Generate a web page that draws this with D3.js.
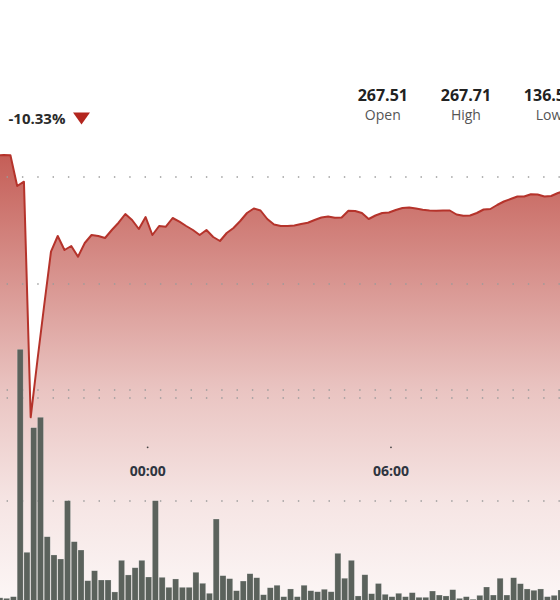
<!DOCTYPE html>
<html><head><meta charset="utf-8">
<script src="https://cdn.jsdelivr.net/npm/d3@7"></script>
<style>
html,body{margin:0;padding:0;background:#fff;}
svg{display:block;font-family:"Open Sans",sans-serif;}
</style>
</head><body>
<svg id="c" width="560" height="600"></svg>
<script>
// ---- data ----
const prices = [
  267.51, 267.71, 267.6, 252.2, 254.35, 136.55, 165.2, 192.7, 219.35, 227.2,
  220.2, 222.2, 216.85, 223.7, 227.7, 227.2, 226.2, 230.2, 233.85, 238.2,
  235.2, 230.7, 236.7, 227.7, 232.2, 231.85, 236.2, 234.35, 232.2, 230.2,
  227.7, 230.2, 226.7, 224.7, 228.7, 231.2, 234.7, 238.7, 240.95, 239.95,
  235.7, 232.95, 232.2, 232.2, 232.45, 233.2, 233.85, 235.2, 236.45, 236.95,
  236.35, 236.45, 239.85, 239.7, 238.7, 235.7, 237.45, 238.7, 238.95, 240.2,
  241.2, 241.45, 240.95, 240.35, 239.95, 239.85, 239.95, 239.95, 237.95, 237.35,
  237.45, 238.7, 240.45, 240.7, 242.7, 244.45, 245.7, 246.95, 246.95, 248.1,
  247.95, 246.95, 247.2, 248.7, 249.7
];
const volumes = [
  6.0, 5.5, 7.1, 247.3, 50.2, 171.2, 181.3, 65.3, 47.6, 43.7,
  100.3, 60.5, 52.4, 22.6, 32.3, 23.3, 23.3, 11.7, 42.4, 28.2,
  35.2, 42.4, 26.2, 100.3, 25.9, 16.2, 24.3, 16.2, 16.2, 30.8,
  20.1, 10.4, 82.5, 27.5, 24.6, 12.9, 22.3, 29.4, 25.5, 9.0,
  15.8, 18.2, 7.1, 14.6, 7.1, 18.2, 12.9, 11.9, 14.3, 11.9,
  49.2, 25.0, 42.4, 7.8, 28.4, 10.0, 19.9, 9.4, 7.1, 10.4,
  7.1, 11.0, 6.5, 6.5, 12.6, 8.7, 7.8, 13.9, 5.5, 7.1,
  4.6, 8.4, 16.5, 8.7, 25.0, 8.7, 25.5, 19.7, 14.6, 13.3,
  14.6, 7.1, 8.4, 13.6, 10.0
];
const startTime = [2024, 0, 1, 20, 17]; // time of first point
const stepMinutes = 10;
const timeTickLabels = ["00:00", "06:00"];
const priceGridTicks = [256.7, 203.2, 150.2];
const volumeGridTicks = [100, 200];
const changeText = "-10.33%";
const statValues = ["267.51", "267.71", "136.55"];
const statLabels = ["Open", "High", "Low"];

// ---- build ----
const W = 560, H = 600;
const t0 = new Date(...startTime);
const times = prices.map((_, i) => new Date(t0.getTime() + i * stepMinutes * 60000));
const data = prices.map((p, i) => ({t: times[i], p, v: volumes[i]}));

const x = d3.scaleTime().domain([times[0], times[times.length - 1]]).range([-3.1, 564.7]);
const yP = d3.scaleLinear().domain([267.7, 136.5]).range([155, 417.4]);
const yV = d3.scaleLinear().domain([0, 200]).range([604, 398]);

const svg = d3.select("#c");
const defs = svg.append("defs");
const grad = defs.append("linearGradient").attr("id", "g")
  .attr("gradientUnits", "userSpaceOnUse").attr("x1", 0).attr("x2", 0).attr("y1", 150).attr("y2", 600);
[[0, 0.74], [0.18, 0.58], [0.53, 0.27], [0.78, 0.12], [1, 0.04]].forEach(([o, a]) =>
  grad.append("stop").attr("offset", o).attr("stop-color", "rgb(175,35,25)").attr("stop-opacity", a));

// area
svg.append("path").datum(data)
  .attr("d", d3.area().x(d => x(d.t)).y0(H).y1(d => yP(d.p)))
  .attr("fill", "url(#g)");

// grid (dotted)
const gridYs = priceGridTicks.map(yP).concat(volumeGridTicks.map(yV));
svg.append("g").selectAll("line").data(gridYs).join("line")
  .attr("x1", 6.6).attr("x2", W).attr("y1", d => d).attr("y2", d => d)
  .attr("stroke", "#9a9a9a").attr("stroke-width", 1.3)
  .attr("stroke-dasharray", "1.4,13.93");

// volume bars
svg.append("g").selectAll("rect").data(data).join("rect")
  .attr("x", d => x(d.t)).attr("width", 6)
  .attr("y", d => yV(d.v)).attr("height", d => yV(0) - yV(d.v))
  .attr("fill", "#5b625c").attr("stroke", "rgba(255,255,255,0.35)").attr("stroke-width", 0.6);

// price line
svg.append("path").datum(data)
  .attr("d", d3.line().x(d => x(d.t)).y(d => yP(d.p)))
  .attr("fill", "none").attr("stroke", "#b5332b").attr("stroke-width", 2)
  .attr("stroke-linejoin", "round");

// time axis
const tickTimes = timeTickLabels.map(s => {
  const [h, m] = s.split(":").map(Number);
  const d = new Date(t0); d.setDate(d.getDate() + 1); d.setHours(h, m, 0, 0); return d;
});
const ax = svg.append("g");
ax.selectAll("circle").data(tickTimes).join("circle")
  .attr("cx", d => x(d)).attr("cy", 447.3).attr("r", 0.9).attr("fill", "#444");
ax.selectAll("text").data(tickTimes).join("text")
  .attr("x", d => x(d)).attr("y", 475.5).attr("text-anchor", "middle")
  .attr("font-size", 14).attr("font-weight", 700).attr("fill", "#2e3540")
  .text((d, i) => timeTickLabels[i]);

// header
svg.append("text").attr("x", 8.5).attr("y", 123.5).attr("font-size", 15).attr("font-weight", 700)
  .attr("fill", "#2a2a2a").text(changeText);
svg.append("path").attr("d", "M73,112.5L90,112.5L81.5,124.5Z").attr("fill", "#b3261e");

const statX = d3.scalePoint().domain(statLabels).range([382.8, 549]);
const st = svg.append("g");
st.selectAll("text.v").data(statLabels).join("text").attr("class", "v")
  .attr("x", d => statX(d)).attr("y", 100.8).attr("text-anchor", "middle")
  .attr("font-size", 16).attr("font-weight", 700).attr("fill", "#222")
  .text((d, i) => statValues[i]);
st.selectAll("text.l").data(statLabels).join("text").attr("class", "l")
  .attr("x", d => statX(d)).attr("y", 120).attr("text-anchor", "middle")
  .attr("font-size", 14).attr("fill", "#555")
  .text(d => d);
</script>
</body></html>
